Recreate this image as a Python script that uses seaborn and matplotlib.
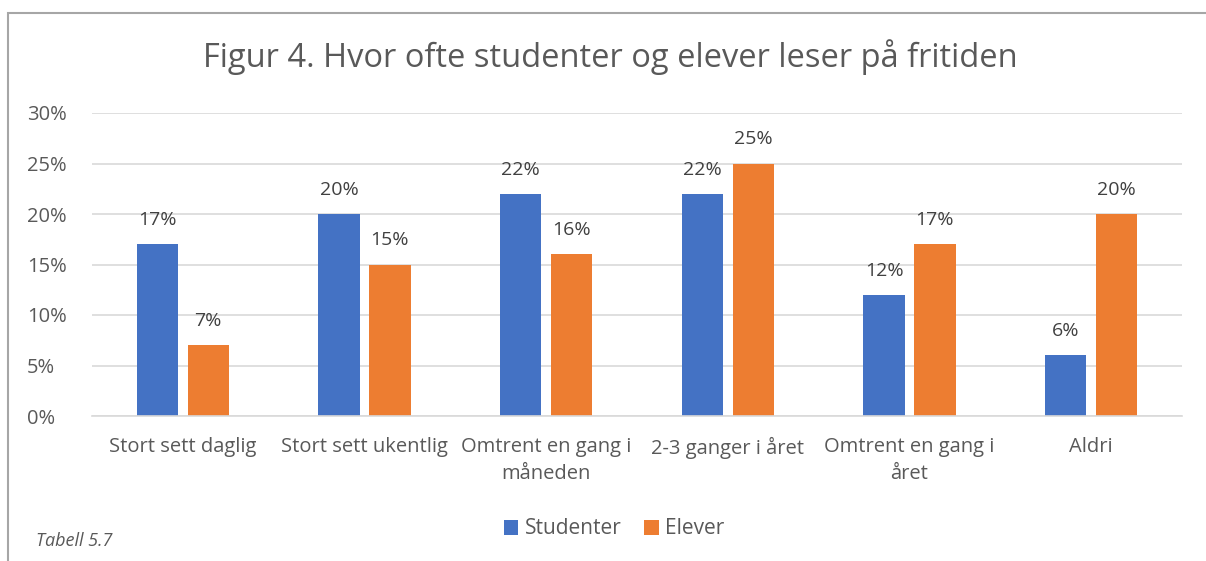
import matplotlib
matplotlib.use("Agg")
import matplotlib.pyplot as plt
import seaborn as sns
import pandas as pd
from matplotlib.patches import Rectangle

categories = ["Stort sett daglig", "Stort sett ukentlig", "Omtrent en gang i\nmåneden",
              "2-3 ganger i året", "Omtrent en gang i\nåret", "Aldri"]
studenter = [17, 20, 22, 22, 12, 6]
elever = [7, 15, 16, 25, 17, 20]
series = ["Studenter", "Elever"]
colors = ["#4472C4", "#ED7D31"]
yticks = [0, 5, 10, 15, 20, 25, 30]

df = pd.DataFrame({
    "kategori": categories * 2,
    "verdi": studenter + elever,
    "gruppe": [series[0]] * len(categories) + [series[1]] * len(categories),
})

sns.set_style("white")
plt.rcParams["font.family"] = ["Open Sans", "DejaVu Sans"]
text_col = "#595959"

fig = plt.figure(figsize=(12.06, 5.61), dpi=100)
ax = fig.add_axes([92 / 1206, 1 - 416 / 561, (1182 - 92) / 1206, (416 - 113) / 561])

sns.barplot(data=df, x="kategori", y="verdi", hue="gruppe", palette=colors,
            width=0.56, gap=0.19, ax=ax, legend=True, saturation=1, linewidth=0)

for cont in ax.containers:
    ax.bar_label(cont, labels=[f"{v:.0f}%" for v in cont.datavalues],
                 padding=11, fontsize=14, color="#404040")

ax.set_ylim(0, 30)
ax.set_yticks(yticks)
ax.set_yticklabels([f"{t}%" for t in yticks], fontsize=14.5, color=text_col)
ax.tick_params(axis="x", labelsize=14.5, colors=text_col, length=0, pad=15)
ax.tick_params(axis="y", length=0, pad=47)
for lbl in ax.get_yticklabels():
    lbl.set_horizontalalignment("left")
for lbl in ax.get_xticklabels():
    lbl.set_linespacing(1.5)
ax.yaxis.grid(True, color="#D9D9D9", linewidth=1.2)
ax.set_axisbelow(True)
for s in ["top", "right", "left"]:
    ax.spines[s].set_visible(False)
ax.spines["bottom"].set_color("#D9D9D9")
ax.spines["bottom"].set_linewidth(1.2)
ax.set_xlabel("")
ax.set_ylabel("")

ax.legend(loc="center", ncol=2, frameon=False, fontsize=15, handlelength=0.7,
          handleheight=0.7, handletextpad=0.3, columnspacing=1.1, labelcolor=text_col)
ax.get_legend().set_bbox_to_anchor((614 / 1206, 1 - 529 / 561), transform=fig.transFigure)

fig.text(610 / 1206, 1 - 57 / 561, "Figur 4. Hvor ofte studenter og elever leser på fritiden",
         ha="center", va="center", fontsize=23.5, color=text_col)
fig.text(36 / 1206, 1 - 541 / 561, "Tabell 5.7", ha="left", va="center",
         fontsize=13, style="italic", color=text_col)

fig.patches.append(Rectangle((8 / 1206, -0.1), 1.2, 1 - 13 / 561 + 0.1,
                             transform=fig.transFigure, fill=False,
                             edgecolor="#A6A6A6", linewidth=1.5))

fig.savefig("out.png", dpi=100, facecolor="white")
